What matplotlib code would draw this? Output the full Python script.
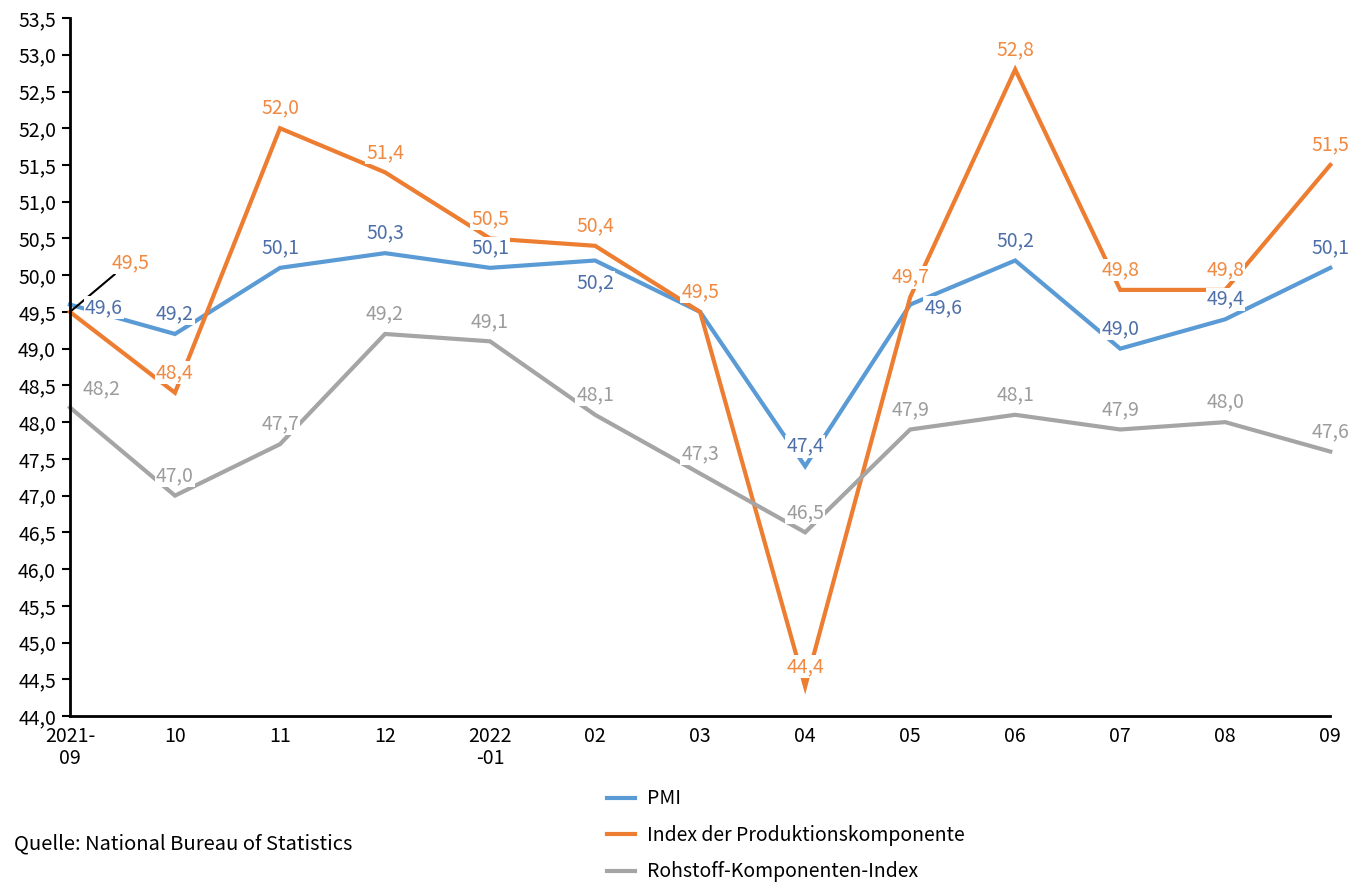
import matplotlib
matplotlib.use("Agg")
from matplotlib import pyplot as plt
import numpy as np

plt.rcParams["font.family"] = ["Noto Sans CJK SC", "DejaVu Sans"]

months = ["2021-\n09", "10", "11", "12", "2022\n-01", "02", "03", "04", "05", "06", "07", "08", "09"]
pmi = [49.6, 49.2, 50.1, 50.3, 50.1, 50.2, 49.5, 47.4, 49.6, 50.2, 49.0, 49.4, 50.1]
production = [49.5, 48.4, 52.0, 51.4, 50.5, 50.4, 49.5, 44.4, 49.7, 52.8, 49.8, 49.8, 51.5]
raw_material = [48.2, 47.0, 47.7, 49.2, 49.1, 48.1, 47.3, 46.5, 47.9, 48.1, 47.9, 48.0, 47.6]

series = [
    ("PMI", pmi, "#5B9BD5", "#4E6FA8"),
    ("Index der Produktionskomponente", production, "#ED7D31", "#F08A42"),
    ("Rohstoff-Komponenten-Index", raw_material, "#A5A5A5", "#9C9C9C"),
]

# label offsets in pixels (default: centred above the point)
special = {
    (0, 0): (34, -3), (0, 5): (0, -22), (0, 8): (33, -3),
    (1, 0): (61, 49),
    (2, 0): (32, 19),
}

fig = plt.figure(figsize=(13.53, 8.84), dpi=100)
ax = fig.add_axes([0.0517, 0.19, 0.9315, 0.7896])
x = np.arange(len(months))

lines = []
for i, (name, vals, color, lab_color) in enumerate(series):
    ln, = ax.plot(x, vals, color=color, lw=3, label=name, zorder=2 + i * 0.1,
                  solid_joinstyle="miter", clip_on=False)
    lines.append(ln)

for i, (name, vals, color, lab_color) in enumerate(series):
    for j, v in enumerate(vals):
        off = special.get((i, j), (0, 20))
        kw = {}
        z = 5
        if (i, j) == (1, 0):
            z = 4
            kw["arrowprops"] = dict(arrowstyle="-", color="black", lw=1.5,
                                    shrinkA=0, shrinkB=2, relpos=(0.1, 0.0))
        elif i == 1:
            z = 6
        ax.annotate(f"{v:.1f}".replace(".", ","), (j, v), xytext=off,
                    textcoords="offset pixels", ha="center", va="center",
                    fontsize=14, color=lab_color, zorder=z,
                    bbox=dict(fc="white", ec="none", pad=0.5), annotation_clip=False, **kw)

ax.set_xlim(0, 12)
ax.set_ylim(44, 53.5)
yt = np.arange(44, 53.51, 0.5)
ax.set_yticks(yt)
ax.set_yticklabels([f"{t:.1f}".replace(".", ",") for t in yt], fontsize=14)
ax.set_xticks(x)
ax.set_xticklabels(months, fontsize=14, linespacing=1.05)
ax.tick_params(axis="x", length=0, pad=7)
ax.tick_params(axis="y", direction="out", length=6, width=1.5, pad=4)
for s in ["top", "right"]:
    ax.spines[s].set_visible(False)
for s in ["left", "bottom"]:
    ax.spines[s].set_linewidth(2)
    ax.spines[s].set_color("black")
    ax.spines[s].set_zorder(7)

fig.legend(handles=lines, loc="upper left", bbox_to_anchor=(0.443, 0.117),
           frameon=False, fontsize=14, handlelength=1.45, handletextpad=0.6,
           labelspacing=0.8, borderaxespad=0)

fig.text(0.0104, 0.045, "Quelle: National Bureau of Statistics", fontsize=14.5,
         ha="left", va="center")

fig.savefig("out.png", dpi=100)
